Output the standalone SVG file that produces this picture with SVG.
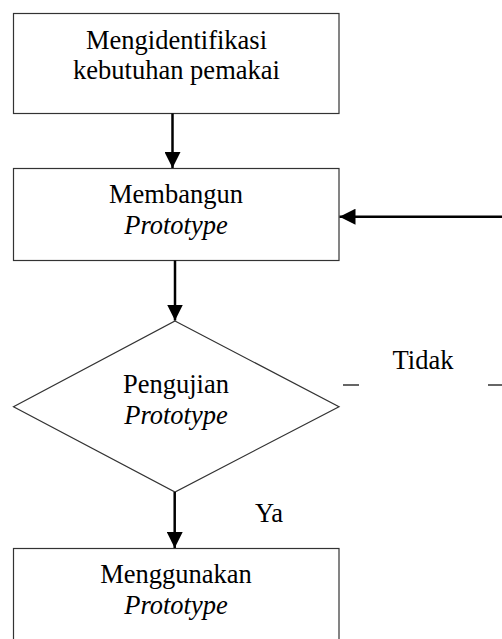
<svg xmlns="http://www.w3.org/2000/svg" width="502" height="639" viewBox="0 0 502 639">
<defs>
<style>
.box{fill:#fff;stroke:#333;stroke-width:1.2}
text{font-family:'Liberation Serif','Times New Roman',Times,serif;font-size:26.5px;fill:#000;text-anchor:middle}
.i{font-style:italic}
.c{stroke:#000;stroke-width:2.5;fill:none}
.d{stroke:#000;stroke-width:1.2}
</style>
<marker id="ah" viewBox="0 0 16 16" refX="16" refY="8" markerWidth="16" markerHeight="16" markerUnits="userSpaceOnUse" orient="auto">
<path d="M0,0 L16,8 L0,16 Z" fill="#000"/>
</marker>
</defs>
<rect width="502" height="639" fill="#fff"/>
<g id="n1">
<rect class="box" x="13.5" y="13.5" width="325.5" height="100"/>
<text x="176.5" y="48.5">Mengidentifikasi</text>
<text x="176.5" y="79">kebutuhan pemakai</text>
</g>
<g id="n2">
<rect class="box" x="13.5" y="168.5" width="325.5" height="92"/>
<text x="176" y="202.5">Membangun</text>
<text class="i" x="176" y="233.5">Prototype</text>
</g>
<g id="n3">
<polygon class="box" points="175,321 339,406.7 175,492 13.5,406.7"/>
<text x="176" y="392.5">Pengujian</text>
<text class="i" x="176" y="424">Prototype</text>
</g>
<g id="n4">
<rect class="box" x="13.5" y="548.5" width="325.5" height="100"/>
<text x="176" y="583">Menggunakan</text>
<text class="i" x="176" y="614">Prototype</text>
</g>
<g id="connectors">
<line class="c" x1="172.5" y1="113.5" x2="172.5" y2="168" marker-end="url(#ah)"/>
<line class="c" x1="175" y1="260.5" x2="175" y2="320.5" marker-end="url(#ah)"/>
<line class="c" x1="174.7" y1="492" x2="174.7" y2="548" marker-end="url(#ah)"/>
<line class="c" x1="502" y1="216.7" x2="339.5" y2="216.7" marker-end="url(#ah)"/>
<line class="d" x1="343" y1="385" x2="359" y2="385"/>
<line class="d" x1="488" y1="385" x2="502" y2="385"/>
<text x="423" y="369">Tidak</text>
<text x="269" y="521.7">Ya</text>
</g>
</svg>
